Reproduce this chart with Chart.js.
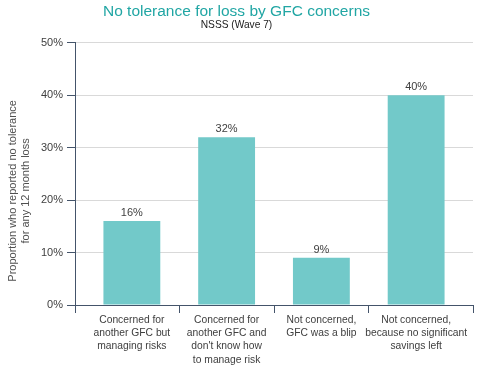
<!DOCTYPE html>
<html>
<head>
<meta charset="utf-8">
<script src="https://cdn.jsdelivr.net/npm/chart.js@4"></script>
<style>
  html, body { margin: 0; padding: 0; background: #fff; }
  #wrap { width: 484px; height: 371px; }
</style>
</head>
<body>
<div id="wrap"><canvas id="chart"></canvas></div>
<script>
// chart data
const categories = [
  ['Concerned for', 'another GFC but', 'managing risks'],
  ['Concerned for', 'another GFC and', "don't know how", 'to manage risk'],
  ['Not concerned,', 'GFC was a blip'],
  ['Not concerned,', 'because no significant', 'savings left']
];
const values = [16, 32, 9, 40];
const yTicks = [0, 10, 20, 30, 40, 50];
const yTitle = ['Proportion who reported no tolerance', 'for any 12 month loss'];

const axisColor = '#44546a';
const textColor = '#404040';
const font = 'Liberation Sans, Arial, sans-serif';

// x ticks: category centres + boundaries between them
const xTicks = [-0.6, 0, 0.5, 1, 1.5, 2, 2.5, 3, 3.6];

const valueLabels = {
  id: 'valueLabels',
  afterDatasetsDraw(chart) {
    const ctx = chart.ctx;
    const meta = chart.getDatasetMeta(0);
    ctx.save();
    ctx.font = '11px ' + font;
    ctx.fillStyle = textColor;
    ctx.textAlign = 'center';
    ctx.textBaseline = 'middle';
    meta.data.forEach((bar, i) => {
      ctx.fillText(values[i] + '%', bar.x, bar.y - 8);
    });
    ctx.restore();
  }
};

const yTitlePlugin = {
  id: 'yTitle',
  afterDraw(chart) {
    const ctx = chart.ctx;
    const area = chart.chartArea;
    ctx.save();
    ctx.font = '11px ' + font;
    ctx.fillStyle = '#505050';
    ctx.textAlign = 'center';
    ctx.textBaseline = 'middle';
    ctx.translate(13, (area.top + area.bottom) / 2 + 17);
    ctx.rotate(-Math.PI / 2);
    yTitle.forEach((line, i) => ctx.fillText(line, 0, i * 13.2));
    ctx.restore();
  }
};

new Chart(document.getElementById('chart'), {
  type: 'bar',
  data: {
    datasets: [{
      data: values.map((v, i) => ({x: i, y: v})),
      backgroundColor: '#72c9c9',
      borderWidth: 0,
      barPercentage: 1.2,
      categoryPercentage: 1
    }]
  },
  options: {
    responsive: true,
    maintainAspectRatio: false,
    animation: false,
    layout: { padding: { left: 0, right: 11, top: 0, bottom: 0 } },
    plugins: {
      legend: { display: false },
      tooltip: { enabled: false },
      title: {
        display: true,
        text: 'No tolerance for loss by GFC concerns',
        color: '#21a6a4',
        font: { family: font, size: 15.5, weight: 'normal', lineHeight: 1 },
        padding: { top: 4, bottom: 1 }
      },
      subtitle: {
        display: true,
        text: 'NSSS (Wave 7)',
        color: '#202020',
        font: { family: font, size: 10.2, lineHeight: 1 },
        padding: { top: 0, bottom: 12 }
      }
    },
    scales: {
      x: {
        type: 'linear',
        min: -0.6,
        max: 3.6,
        offset: false,
        afterBuildTicks: (scale) => { scale.ticks = xTicks.map(v => ({value: v})); },
        afterFit: (scale) => { scale.height = 66; },
        border: { display: true, color: axisColor, width: 1 },
        grid: {
          offset: false,
          drawOnChartArea: false,
          tickLength: 8,
          tickColor: (c) => Number.isInteger(c.tick.value) ? 'rgba(0,0,0,0)' : axisColor
        },
        ticks: {
          autoSkip: false,
          maxRotation: 0,
          padding: 0,
          color: textColor,
          font: { family: font, size: 10.3, lineHeight: 1.3 },
          callback: (v) => Number.isInteger(v) ? categories[v] : ''
        }
      },
      y: {
        min: 0,
        max: 50,
        afterBuildTicks: (scale) => { scale.ticks = yTicks.map(v => ({value: v})); },
        afterFit: (scale) => { scale.width = 75; },
        border: { display: true, color: axisColor, width: 1 },
        grid: {
          color: '#d9d9d9',
          lineWidth: 1,
          tickLength: 8,
          tickColor: axisColor
        },
        ticks: {
          padding: 4,
          color: textColor,
          font: { family: font, size: 11 },
          callback: (v) => v + '%'
        }
      }
    }
  },
  plugins: [valueLabels, yTitlePlugin]
});
</script>
</body>
</html>
